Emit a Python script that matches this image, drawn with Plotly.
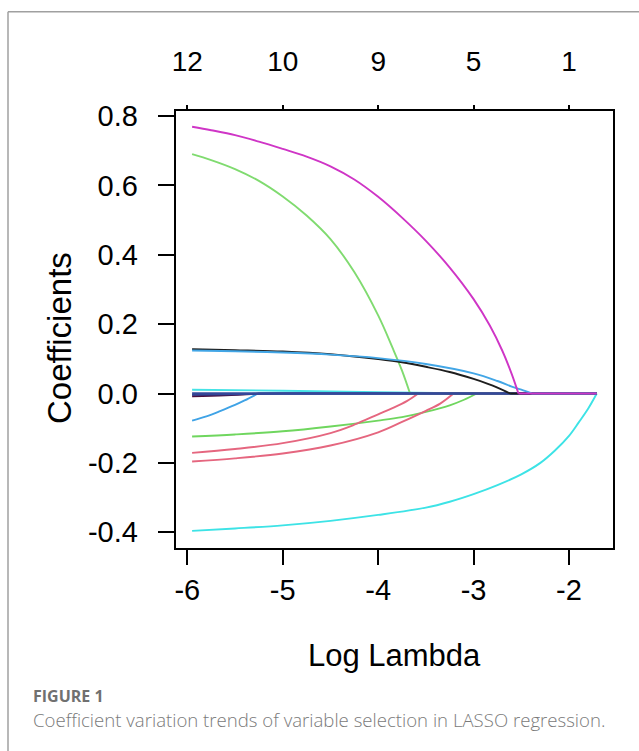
import plotly.graph_objects as go

# ---- data ----
log_lambda_ticks = [-6, -5, -4, -3, -2]
bottom_tick_labels = ["-6", "-5", "-4", "-3", "-2"]
top_tick_labels = ["12", "10", "9", "5", "1"]
y_ticks = [-0.4, -0.2, 0.0, 0.2, 0.4, 0.6, 0.8]
y_tick_labels = ["-0.4", "-0.2", "0.0", "0.2", "0.4", "0.6", "0.8"]

# each variable's coefficient path (log lambda, coefficient)
zero_x = [-5.95, -1.71]
zero_y = [0.0, 0.0]

navy_x = [-5.95, -5.5, -4.99, -1.71]
navy_y = [-0.004, -0.002, 0.0, 0.0]

cyan_small_x = [-5.95, -5.0, -4.0, -3.0, -1.71]
cyan_small_y = [0.011, 0.008, 0.004, 0.0, 0.0]

black2_x = [-5.95, -5.6, -5.24, -1.71]
black2_y = [-0.008, -0.005, 0.0, 0.0]

lightblue_x = [-5.95, -5.8, -5.657, -5.5, -5.4, -5.259, -1.71]
lightblue_y = [-0.078, -0.066, -0.051, -0.033, -0.020, 0.0, 0.0]

green_small_x = [-5.95, -5.5, -5.0, -4.5, -4.0, -3.75, -3.5, -3.25, -3.1, -2.967, -1.71]
green_small_y = [-0.124, -0.118, -0.109, -0.095, -0.078, -0.068, -0.053, -0.034, -0.018, 0.0, 0.0]

red1_x = [-5.95, -5.5, -5.0, -4.5, -4.25, -4.0, -3.85, -3.7, -3.58, -1.71]
red1_y = [-0.171, -0.160, -0.143, -0.114, -0.090, -0.060, -0.042, -0.022, 0.0, 0.0]

red2_x = [-5.95, -5.5, -5.0, -4.5, -4.0, -3.75, -3.5, -3.35, -3.21, -1.71]
red2_y = [-0.196, -0.187, -0.173, -0.150, -0.112, -0.082, -0.050, -0.029, 0.0, 0.0]

cyan_x = [-5.95, -5.5, -5.0, -4.5, -4.0, -3.5, -3.25, -3.0, -2.75, -2.5, -2.3, -2.15, -2.0, -1.9, -1.8, -1.709]
cyan_y = [-0.396, -0.389, -0.380, -0.367, -0.350, -0.329, -0.312, -0.290, -0.264, -0.233, -0.200, -0.165, -0.122, -0.084, -0.044, 0.0]

green_big_x = [-5.95, -5.75, -5.5, -5.25, -5.0, -4.75, -4.5, -4.25, -4.0, -3.85, -3.75, -3.666, -1.71]
green_big_y = [0.690, 0.673, 0.647, 0.613, 0.568, 0.513, 0.445, 0.350, 0.225, 0.132, 0.066, 0.0, 0.0]

blue_x = [-5.95, -5.5, -5.0, -4.5, -4.0, -3.5, -3.0, -2.75, -2.6, -2.5, -2.39, -1.71]
blue_y = [0.124, 0.122, 0.118, 0.112, 0.102, 0.085, 0.058, 0.036, 0.020, 0.011, 0.0, 0.0]

black_x = [-5.95, -5.5, -5.0, -4.5, -4.0, -3.75, -3.5, -3.25, -3.0, -2.85, -2.75, -2.617, -1.71]
black_y = [0.128, 0.125, 0.121, 0.113, 0.099, 0.090, 0.077, 0.062, 0.042, 0.028, 0.017, 0.0, 0.0]

magenta_x = [-5.95, -5.75, -5.5, -5.25, -5.0, -4.75, -4.5, -4.25, -4.0, -3.75, -3.5, -3.25, -3.0, -2.83, -2.7, -2.6, -2.53, -1.71]
magenta_y = [0.769, 0.759, 0.745, 0.726, 0.705, 0.683, 0.655, 0.617, 0.567, 0.507, 0.440, 0.363, 0.272, 0.196, 0.124, 0.056, 0.0, 0.0]

series = [
    ("cyan_small", cyan_small_x, cyan_small_y, "#45E3E6"),
    ("black2", black2_x, black2_y, "#4A1040"),
    ("lightblue", lightblue_x, lightblue_y, "#3FA3E6"),
    ("green_small", green_small_x, green_small_y, "#6FD65E"),
    ("red1", red1_x, red1_y, "#E5667F"),
    ("red2", red2_x, red2_y, "#E5667F"),
    ("cyan", cyan_x, cyan_y, "#3DE3E6"),
    ("green_big", green_big_x, green_big_y, "#80DB70"),
    ("navy", navy_x, navy_y, "#2C3F8F"),
    ("zero", zero_x, zero_y, "#34489A"),
    ("black", black_x, black_y, "#1E1E1E"),
    ("blue", blue_x, blue_y, "#42A6E6"),
    ("magenta", magenta_x, magenta_y, "#CF35C6"),
]

W, H = 639, 751
px_left, px_right, px_top, px_bottom = 175.5, 612.7, 110.5, 548.3

fig = go.Figure()
for name, xs, ys, col in series:
    # curved part (up to the point where the coefficient reaches zero) drawn smooth,
    # the zero tail drawn straight
    k = next((i for i, v in enumerate(ys) if v == 0.0), len(ys) - 1)
    width = 2.6 if name == "zero" else 1.9
    fig.add_trace(go.Scatter(x=xs[:k + 1], y=ys[:k + 1], mode="lines", name=name,
                             line=dict(color=col, width=width, shape="spline", smoothing=1.0),
                             showlegend=False, hoverinfo="skip"))
    if k < len(ys) - 1:
        fig.add_trace(go.Scatter(x=xs[k:], y=ys[k:], mode="lines", name=name + "_tail",
                                 line=dict(color=col, width=max(width, 2.2)),
                                 showlegend=False, hoverinfo="skip"))

FONT = "Liberation Sans, Arial, sans-serif"

fig.update_layout(
    template="none",
    width=W, height=H, autosize=False,
    margin=dict(l=0, r=0, t=0, b=0, pad=0),
    paper_bgcolor="white", plot_bgcolor="white",
    xaxis=dict(
        domain=[px_left / W, px_right / W],
        range=[-6.124, -1.542],
        tickvals=log_lambda_ticks, ticktext=bottom_tick_labels,
        ticks="outside", ticklen=15, tickwidth=1.5, tickcolor="black",
        showline=True, mirror=True, linecolor="black", linewidth=1.5,
        showgrid=False, zeroline=False, automargin=False,
        tickfont=dict(family=FONT, size=29, color="black"),
        ticklabelstandoff=0,
        title=dict(text="Log Lambda", font=dict(family=FONT, size=31, color="black"), standoff=39),
    ),
    xaxis2=dict(
        overlaying="x", side="top", anchor="y",
        range=[-6.124, -1.542],
        tickvals=log_lambda_ticks, ticktext=top_tick_labels,
        ticks="outside", ticklen=5, tickwidth=1.5, tickcolor="black",
        showline=False, showgrid=False, zeroline=False, automargin=False,
        tickfont=dict(family=FONT, size=28, color="black"),
        ticklabelstandoff=22,
    ),
    yaxis=dict(
        domain=[1 - px_bottom / H, 1 - px_top / H],
        range=[-0.4462, 0.8158],
        tickvals=y_ticks, ticktext=y_tick_labels,
        ticks="outside", ticklen=16, tickwidth=1.5, tickcolor="black",
        showline=True, mirror=True, linecolor="black", linewidth=1.5,
        showgrid=False, zeroline=False, automargin=False,
        tickfont=dict(family=FONT, size=29, color="black"),
        ticklabelstandoff=14,
    ),
    shapes=[
        dict(type="line", xref="paper", yref="paper", x0=8 / W, x1=8 / W, y0=0, y1=1 - 11.7 / H,
             line=dict(color="#A0A0A0", width=1.5)),
        dict(type="line", xref="paper", yref="paper", x0=8 / W, x1=1, y0=1 - 11.7 / H, y1=1 - 11.7 / H,
             line=dict(color="#A0A0A0", width=1.5)),
    ],
    annotations=[
        dict(text="Coefficients", xref="paper", yref="paper", x=59 / W, y=1 - 338 / H,
             xanchor="center", yanchor="middle", textangle=-90, showarrow=False,
             font=dict(family=FONT, size=33, color="black")),
        dict(text="<b>FIGURE 1</b>", xref="paper", yref="paper", x=31 / W, y=1 - 696 / H,
             xanchor="left", yanchor="middle", showarrow=False,
             font=dict(family="Open Sans, sans-serif", size=16, color="#707070")),
        dict(text="Coefficient variation trends of variable selection in LASSO regression.",
             xref="paper", yref="paper", x=31 / W, y=1 - 719 / H,
             xanchor="left", yanchor="middle", showarrow=False,
             font=dict(family="Open Sans, sans-serif", size=18.6, color="#7a7a7a", weight=300)),
    ],
)
fig.add_trace(go.Scatter(x=[], y=[], xaxis="x2", showlegend=False))

fig.write_html("out.html", config={"displayModeBar": False},
               post_script="document.body.style.margin='0';document.body.style.overflow='hidden';")
